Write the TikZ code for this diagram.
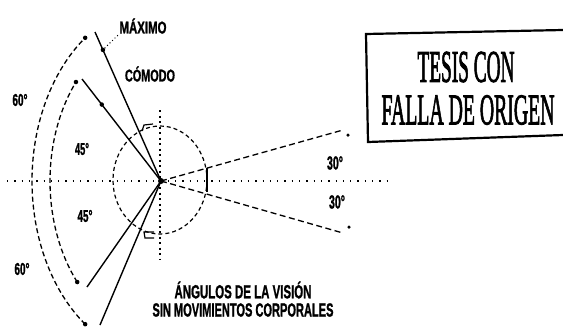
\documentclass[tikz,border=0pt]{standalone}
\usepackage{fontspec}
\setmainfont{Liberation Sans}
\newfontfamily\stampfont[FakeBold=2.5]{Liberation Serif}
\newfontfamily\lblfont[FakeBold=1.5]{Liberation Sans Bold}
\usetikzlibrary{calc}
\newcommand{\sqz}[2]{\resizebox{#1}{\height}{#2}}
\begin{document}
\begin{tikzpicture}[x=1pt,y=-1pt,
  solidln/.style={line width=1.4pt},
  dashln/.style={line width=1.3pt, dash pattern=on 6pt off 3.5pt},
  arcln/.style={line width=1.3pt, dash pattern=on 5pt off 3pt},
  circln/.style={line width=1.2pt, dash pattern=on 4pt off 3pt},
  hdot/.style={line width=1.3pt, dash pattern=on 1.3pt off 6pt},
  vdot/.style={line width=1.6pt, dash pattern=on 2pt off 3.5pt},
  dotmark/.style={circle, fill=black, inner sep=0pt, minimum size=4.5pt},
  lbl/.style={inner sep=0pt, font=\lblfont\fontsize{17}{17}\selectfont},
  big/.style={inner sep=0pt, font=\lblfont\fontsize{19}{19}\selectfont},
  stamp/.style={inner sep=0pt, font=\stampfont\fontsize{40}{40}\selectfont}]
\useasboundingbox (0,0) rectangle (563,327);

% centre and reference lines
\coordinate (O) at (161,181);
\coordinate (hL) at (7,181);
\coordinate (hR) at (393,181);
\coordinate (vT) at (160,110);
\coordinate (vB) at (160,260);
\draw[hdot] (hL) -- (hR);
\draw[vdot] (vT) -- (vB);

% eye circle
\draw[circln] (160,180) ellipse [x radius=47, y radius=54];

% solid sight lines
\coordinate (mU) at (95,32);
\coordinate (cU) at (82,79);
\coordinate (cD) at (87,287);
\coordinate (mD) at (100,325);
\draw[solidln] (O) -- (mU);
\draw[solidln] (O) -- (cU);
\draw[solidln] (O) -- (cD);
\draw[solidln] (O) -- (mD);
\node[dotmark] (dM) at ($(O)!0.88!(mU)$) {};
\node[dotmark] (dC) at ($(O)!0.75!(cU)$) {};

% arcs
\coordinate (oT) at ({161+129*cos(234)},{181+177*sin(234)});
\coordinate (oB) at ({161+129*cos(126)},{181+177*sin(126)});
\coordinate (iT) at ({161+111*cos(220)},{181+154*sin(220)});
\coordinate (iB) at ({161+111*cos(139)},{181+154*sin(139)});
\draw[arcln] plot[domain=126:234, samples=50, smooth] ({161+129*cos(\x)},{181+177*sin(\x)});
\draw[arcln] plot[domain=139:220, samples=50, smooth] ({161+111*cos(\x)},{181+154*sin(\x)});
\node[dotmark] (eoT) at (oT) {};
\node[dotmark] (eoB) at (oB) {};
\node[dotmark] (eiT) at (iT) {};
\node[dotmark] (eiB) at (iB) {};

% right field lines
\coordinate (rU) at (343,130);
\coordinate (rD) at (343,233);
\draw[dashln] (O) -- (rU);
\draw[dashln] (O) -- (rD);
\node[dotmark, minimum size=3.5pt] (erU) at (348,135) {};
\node[dotmark, minimum size=3.5pt] (erD) at (349,227) {};
\coordinate (tkT) at (207,168);
\coordinate (tkB) at (207,192);
\draw[line width=1.3pt] (tkT) -- (tkB);

% small angle marks
\draw[line width=1.2pt] (142,131) -- (144,125) -- (153,124);
\draw[line width=1.2pt] (154,232) -- (144,232) -- (145,238) -- (154,238);

% centre point
\node[circle, fill=black, inner sep=0pt, minimum size=6pt] (c) at (O) {};

% labels
\node[lbl] (maximo) at (143,26) {\sqz{47pt}{MÁXIMO}};
\node[lbl] (comodo) at (150,74) {\sqz{50pt}{CÓMODO}};
\draw[line width=1pt, dash pattern=on 1pt off 2.5pt] (dM) -- (maximo.south west);
\node[lbl] (l60a) at (20,100) {\sqz{15pt}{60°}};
\node[lbl] (l45a) at (82,149) {\sqz{14pt}{45°}};
\node[lbl] (l45b) at (85,216) {\sqz{15pt}{45°}};
\node[lbl] (l60b) at (22,269) {\sqz{15pt}{60°}};
\node[big] (l30a) at (335,163) {\sqz{16pt}{30°}};
\node[big] (l30b) at (337,202) {\sqz{16pt}{30°}};
\node[big] (t1) at (243,290) {\sqz{137pt}{ÁNGULOS DE LA VISIÓN}};
\node[big] (t2) at (243,310) {\sqz{181pt}{SIN MOVIMIENTOS CORPORALES}};

% stamp box
\coordinate (bTR) at (563,30);
\coordinate (bTL) at (366,34);
\coordinate (bBL) at (368,142);
\coordinate (bBR) at (563,135);
\draw[line width=2.2pt] (bTR) -- (bTL) -- (bBL) -- (bBR);
\node[stamp] (s1) at (466,67) {\resizebox{97pt}{30pt}{TESIS CON}};
\node[stamp] (s2) at (468,110) {\resizebox{173pt}{29pt}{FALLA DE ORIGEN}};
\end{tikzpicture}
\end{document}
